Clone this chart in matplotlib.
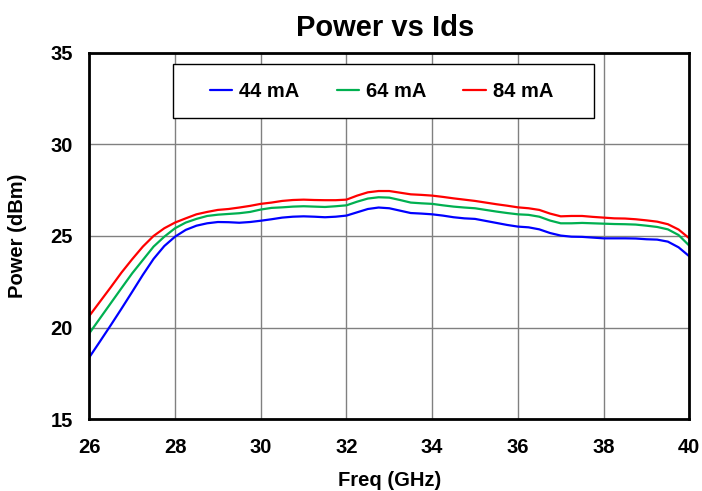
import matplotlib
matplotlib.use("Agg")
import matplotlib.pyplot as plt
from matplotlib.patches import Rectangle

plt.rcParams['font.family'] = ['Liberation Sans', 'DejaVu Sans']

freq_ghz = [26.0, 26.25, 26.5, 26.75, 27.0, 27.25, 27.5, 27.75,
            28.0, 28.25, 28.5, 28.75, 29.0, 29.25, 29.5, 29.75,
            30.0, 30.25, 30.5, 30.75, 31.0, 31.25, 31.5, 31.75,
            32.0, 32.25, 32.5, 32.75, 33.0, 33.25, 33.5, 33.75,
            34.0, 34.25, 34.5, 34.75, 35.0, 35.25, 35.5, 35.75,
            36.0, 36.25, 36.5, 36.75, 37.0, 37.25, 37.5, 37.75,
            38.0, 38.25, 38.5, 38.75, 39.0, 39.25, 39.5, 39.75, 40.0]

power_44ma = [18.38, 19.25, 20.13, 21.03, 21.95, 22.88, 23.75, 24.45,
              24.96, 25.33, 25.56, 25.69, 25.76, 25.75, 25.72, 25.76,
              25.83, 25.91, 26.0, 26.05, 26.07, 26.05, 26.02, 26.05,
              26.11, 26.29, 26.47, 26.55, 26.51, 26.38, 26.25, 26.22,
              26.18, 26.11, 26.02, 25.96, 25.93, 25.82, 25.71, 25.6,
              25.51, 25.47, 25.36, 25.16, 25.02, 24.96, 24.95, 24.91,
              24.87, 24.87, 24.87, 24.86, 24.82, 24.8, 24.69, 24.38, 23.89]

power_64ma = [19.69, 20.51, 21.33, 22.15, 22.96, 23.69, 24.42, 24.96,
              25.42, 25.73, 25.93, 26.09, 26.16, 26.2, 26.24, 26.31,
              26.44, 26.53, 26.56, 26.6, 26.62, 26.6, 26.58, 26.62,
              26.67, 26.87, 27.04, 27.11, 27.09, 26.96, 26.82, 26.78,
              26.75, 26.67, 26.6, 26.55, 26.51, 26.42, 26.33, 26.25,
              26.18, 26.15, 26.05, 25.84, 25.69, 25.69, 25.71, 25.69,
              25.67, 25.65, 25.64, 25.62, 25.56, 25.49, 25.36, 25.05, 24.47]

power_84ma = [20.64, 21.42, 22.2, 23.0, 23.73, 24.42, 25.0, 25.42,
              25.73, 25.96, 26.18, 26.31, 26.42, 26.47, 26.55, 26.64,
              26.75, 26.82, 26.91, 26.96, 26.98, 26.96, 26.95, 26.95,
              26.98, 27.2, 27.38, 27.45, 27.45, 27.36, 27.27, 27.24,
              27.2, 27.13, 27.05, 26.98, 26.91, 26.82, 26.73, 26.65,
              26.56, 26.51, 26.42, 26.22, 26.07, 26.09, 26.09, 26.04,
              26.0, 25.96, 25.95, 25.91, 25.85, 25.78, 25.64, 25.35, 24.87]

series_labels = ['44 mA', '64 mA', '84 mA']
series_colors = ['#0000ff', '#00b050', '#ff0000']

x_ticks = [26, 28, 30, 32, 34, 36, 38, 40]
y_ticks = [15, 20, 25, 30, 35]

FS = 14.5

fig = plt.figure(figsize=(7.02, 4.91), dpi=100)
ax = fig.add_axes([89.3 / 702, 1 - 419.3 / 491, 600 / 702, 366.7 / 491])

for vals, lab, col in zip([power_44ma, power_64ma, power_84ma], series_labels, series_colors):
    ax.plot(freq_ghz, vals, color=col, lw=1.6, label=lab,
            solid_joinstyle='round', solid_capstyle='round')

ax.set_xlim(26, 40)
ax.set_ylim(15, 35)
ax.set_xticks(x_ticks)
ax.set_yticks(y_ticks)
ax.grid(True, color='#808080', lw=1.0)
ax.set_axisbelow(True)
ax.tick_params(length=0, labelsize=FS)
ax.tick_params(axis='x', pad=13.5)
ax.tick_params(axis='y', pad=12)
for lbl in ax.get_xticklabels() + ax.get_yticklabels():
    lbl.set_fontweight('bold')
for s in ax.spines.values():
    s.set_linewidth(2.0)
    s.set_color('black')

ax.set_xlabel('Freq (GHz)', fontsize=FS, fontweight='bold', labelpad=10)
ax.set_ylabel('Power (dBm)', fontsize=FS, fontweight='bold', labelpad=17)
ax.set_title('Power vs Ids', fontsize=21, fontweight='bold', pad=12, x=0.4925)

# legend box drawn as its own white framed rectangle
ax.add_patch(Rectangle((0.1395, 0.8217), 0.8415 - 0.1395, 0.969 - 0.8217,
                       transform=ax.transAxes, facecolor='white',
                       edgecolor='black', lw=1.0, zorder=4))
leg = ax.legend(loc='center', bbox_to_anchor=(0.487, 0.893), ncol=3,
                prop={'weight': 'bold', 'size': FS}, frameon=False,
                handlelength=1.1, handletextpad=0.35, columnspacing=1.85,
                borderpad=0.2)
leg.set_zorder(5)

fig.savefig('out.png', dpi=100)
